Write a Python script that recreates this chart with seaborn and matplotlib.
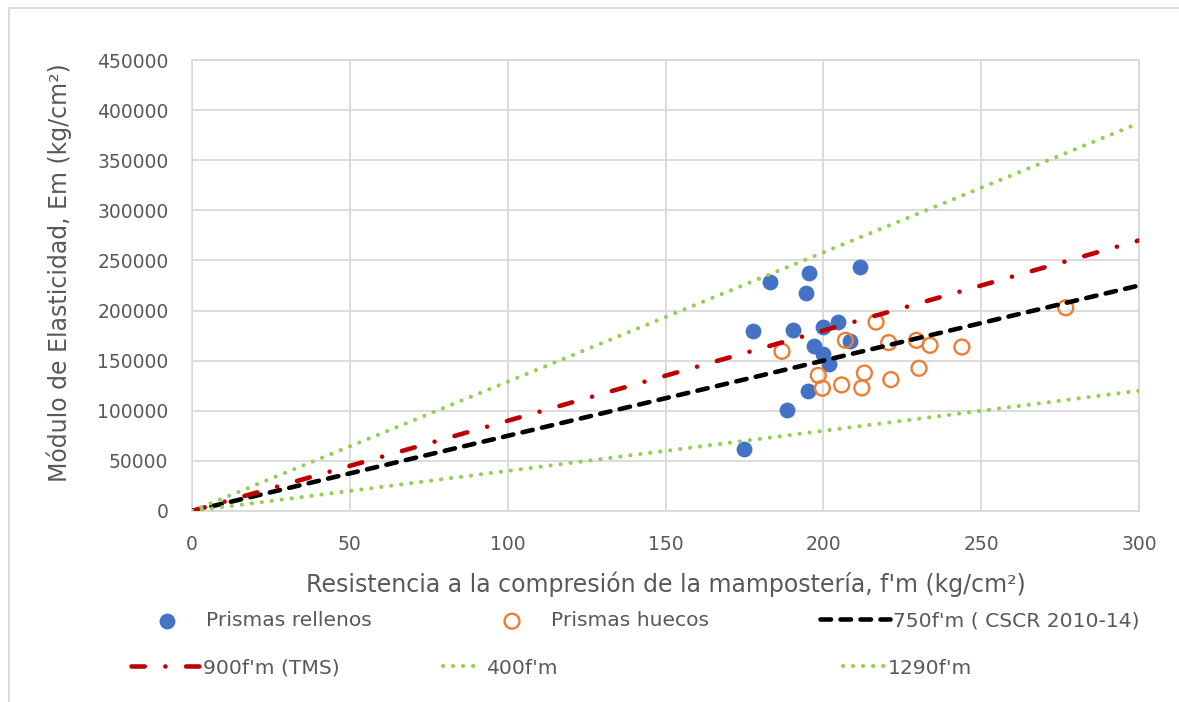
import numpy as np
import pandas as pd
import matplotlib
matplotlib.use("Agg")
import matplotlib.pyplot as plt
import seaborn as sns

# Measured prisms: compressive strength f'm (kg/cm2) and modulus Em (kg/cm2)
rellenos_fm = [175.0, 177.6, 183.1, 188.5, 190.3, 194.5, 195.6, 195.0,
               197.2, 200.0, 200.0, 201.9, 204.8, 208.5, 211.6]
rellenos_em = [61700, 179200, 228300, 100600, 180900, 217700, 237300, 119500,
               164600, 183900, 156300, 146400, 188200, 169600, 243200]

huecos_fm = [186.9, 216.7, 207.0, 220.7, 229.5, 233.8, 198.4, 199.7,
             205.8, 212.2, 213.0, 221.4, 230.3, 276.8, 243.9]
huecos_em = [159300, 188500, 170300, 168000, 170300, 165300, 135400, 122500,
             125800, 122800, 137700, 131100, 142400, 202800, 163600]

# Code relations Em = k * f'm
fm_range = [0, 300]
k_cscr = 750
k_tms = 900
k_low = 400
k_high = 1290

x_ticks = [0, 50, 100, 150, 200, 250, 300]
y_ticks = [0, 50000, 100000, 150000, 200000, 250000, 300000, 350000, 400000, 450000]

sns.set_theme(style="white")
plt.rcParams["font.family"] = ["DejaVu Sans"]
TXT = "#595959"
GRID = "#D9D9D9"

fig = plt.figure(figsize=(11.79, 7.02), dpi=100)
fig.patch.set_facecolor("white")
ax = fig.add_axes([192 / 1179, 1 - 511 / 702, (1139 - 192) / 1179, (511 - 60) / 702])

# outer chart frame
fig.add_artist(plt.Rectangle((9 / 1179, -0.05), 1.2, (702 - 8) / 702 + 0.05,
                             transform=fig.transFigure, fill=False,
                             edgecolor=GRID, linewidth=1.3, zorder=0))

df_r = pd.DataFrame({"fm": rellenos_fm, "em": rellenos_em})
df_h = pd.DataFrame({"fm": huecos_fm, "em": huecos_em})

sns.scatterplot(data=df_r, x="fm", y="em", ax=ax, color="#4472C4", s=130,
                linewidth=0, zorder=3, label="Prismas rellenos")
h_blue = ax.collections[-1]
sns.scatterplot(data=df_h, x="fm", y="em", ax=ax, s=115, zorder=4,
                label="Prismas huecos")
h_orange = ax.collections[-1]
h_orange.set_facecolor("none")
h_orange.set_edgecolor("#ED7D31")
h_orange.set_linewidth(1.7)

xs = np.array(fm_range, dtype=float)
line_specs = [
    (k_cscr, "black", 3.3, (0, (2.3, 2.06)), "750f'm ( CSCR 2010-14)"),
    (k_tms, "#C00000", 3.3, (0, (2.9, 4.5, 0.01, 4.5)), "900f'm (TMS)"),
    (k_low, "#92D050", 3.0, (0, (0.01, 2.4)), "400f'm"),
    (k_high, "#92D050", 3.0, (0, (0.01, 2.4)), "1290f'm"),
]
line_handles = []
for k, col, lw, ls, lab in line_specs:
    sns.lineplot(x=xs, y=k * xs, ax=ax, color=col, linewidth=lw, zorder=5,
                 label=lab)
    ln = ax.lines[-1]
    ln.set_linestyle(ls)
    ln.set_dash_capstyle("round")
    line_handles.append(ln)

if ax.legend_ is not None:
    ax.legend_.remove()

ax.set_xlim(0, 300)
ax.set_ylim(0, 450000)
ax.set_xticks(x_ticks)
ax.set_yticks(y_ticks)
ax.set_xticklabels([str(v) for v in x_ticks])
ax.set_yticklabels([str(v) for v in y_ticks])
ax.tick_params(axis="both", length=0, labelsize=13.5, colors=TXT)
ax.tick_params(axis="y", pad=17)
ax.tick_params(axis="x", pad=17)
ax.grid(True, color=GRID, linewidth=1.3)
ax.set_axisbelow(True)
for s in ax.spines.values():
    s.set_color(GRID)
    s.set_linewidth(1.3)

ax.set_xlabel("Resistencia a la compresión de la mampostería, f'm (kg/cm²)",
              fontsize=17, color=TXT, labelpad=13)
ax.set_ylabel("Módulo de Elasticidad, Em (kg/cm²)", fontsize=17, color=TXT)
ax.yaxis.set_label_coords(-0.127, 0.528)

# legend entries placed individually
FS = 14.6
em_px = FS * 100 / 72


def place(handle, label, x_start, y_center, handle_px, handletextpad_px=3):
    leg = fig.legend(handles=[handle], labels=[label], loc="center left",
                     bbox_to_anchor=(x_start / 1179, 1 - y_center / 702),
                     frameon=False, borderpad=0, borderaxespad=0,
                     handlelength=handle_px / em_px,
                     handletextpad=handletextpad_px / em_px,
                     fontsize=FS, labelcolor=TXT, scatterpoints=1)
    return leg


place(h_blue, "Prismas rellenos", 131, 621, 72)
place(h_orange, "Prismas huecos", 476, 621, 72)
place(line_handles[0], "750f'm ( CSCR 2010-14)", 820, 621, 70)
place(line_handles[1], "900f'm (TMS)", 131, 668, 69)
place(line_handles[2], "400f'm", 443, 668, 40)
place(line_handles[3], "1290f'm", 843, 668, 42)

fig.savefig("out.png", dpi=100, facecolor="white")
